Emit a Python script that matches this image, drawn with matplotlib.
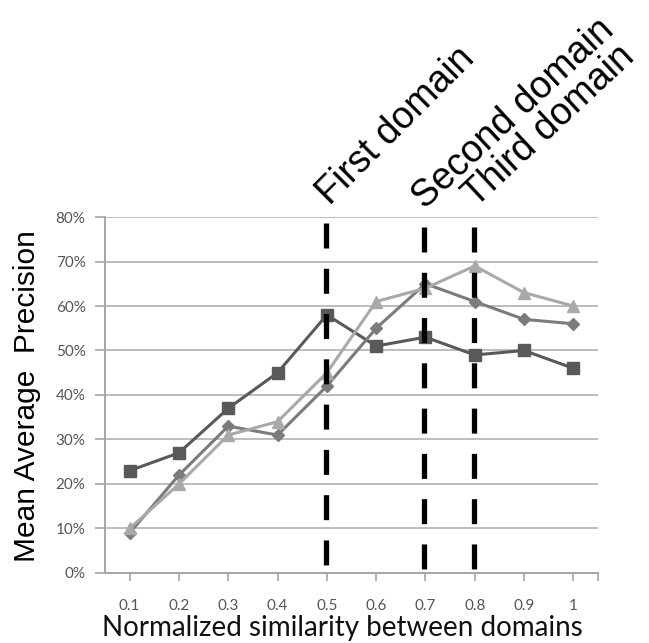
import matplotlib
matplotlib.use('Agg')
import matplotlib.pyplot as plt
import matplotlib.transforms as mtransforms

# data
similarity = [0.1, 0.2, 0.3, 0.4, 0.5, 0.6, 0.7, 0.8, 0.9, 1.0]
tick_labels = ['0.1', '0.2', '0.3', '0.4', '0.5', '0.6', '0.7', '0.8', '0.9', '1']
map_squares = [0.23, 0.27, 0.37, 0.45, 0.58, 0.51, 0.53, 0.49, 0.50, 0.46]
map_diamonds = [0.09, 0.22, 0.33, 0.31, 0.42, 0.55, 0.65, 0.61, 0.57, 0.56]
map_triangles = [0.10, 0.20, 0.31, 0.34, 0.45, 0.61, 0.64, 0.69, 0.63, 0.60]
domain_x = [0.5, 0.7, 0.8]
domain_names = ['First domain', 'Second domain', 'Third domain']
y_ticks = [0, 0.1, 0.2, 0.3, 0.4, 0.5, 0.6, 0.7, 0.8]

plt.rcParams['lines.scale_dashes'] = False

fig = plt.figure(figsize=(6.49, 6.43), dpi=100)
ax = fig.add_axes([0.1618, 0.1089, 0.7596, 0.5536])

ax.plot(similarity, map_squares, color='#595959', lw=2.2, marker='s', ms=9, zorder=3)
ax.plot(similarity, map_diamonds, color='#7b7b7b', lw=2.2, marker='D', ms=6.5, zorder=3)
ax.plot(similarity, map_triangles, color='#a9a9a9', lw=2.2, marker='^', ms=9, zorder=3)

# dashed domain markers (start a little below the top, like the original)
starts = [0.787, 0.778, 0.778]
for x, top in zip(domain_x, starts):
    ax.plot([x - 0.002, x - 0.002], [top, 0.0], color='black', lw=3.8,
            dashes=(18, 14.6), zorder=5)

ax.set_xlim(0.05, 1.05)
ax.set_ylim(0, 0.8)

ax.set_xticks(similarity + [1.05])
ax.set_xticklabels(tick_labels + [''])
ax.set_yticks(y_ticks)
ax.set_yticklabels(['%d%%' % round(v * 100) for v in y_ticks])

ax.grid(axis='y', color='#bdbdbd', lw=1.4)
ax.set_axisbelow(True)
for s in ['top', 'right']:
    ax.spines[s].set_visible(False)
for s in ['left', 'bottom']:
    ax.spines[s].set_color('#a6a6a6')
    ax.spines[s].set_linewidth(1.4)

ax.tick_params(axis='x', direction='out', length=6, width=1.2, color='#a6a6a6',
               labelcolor='#555555', labelsize=11, pad=13)
ax.tick_params(axis='y', direction='out', length=7, width=1.2, color='#a6a6a6',
               labelcolor='#555555', labelsize=11, pad=7)
for lab in ax.get_xticklabels() + ax.get_yticklabels():
    lab.set_family('Lato')

# rotated domain names
trans = mtransforms.blended_transform_factory(ax.transData, ax.transAxes)
offsets = [0.006, 0.0, 0.002]
heights = [1.03, 1.02, 1.025]
angles = [45, 43, 43]
for x, name, dx, y, ang in zip(domain_x, domain_names, offsets, heights, angles):
    ax.text(x + dx, y, name, transform=trans, rotation=ang, rotation_mode='anchor',
            ha='left', va='baseline', fontsize=27, family='Liberation Sans')

fig.text(27 / 649, 0.384, 'Mean Average  Precision', rotation=90, ha='center', va='center',
         fontsize=21.5, family='Liberation Sans')
fig.text(102 / 649, 1 - 636 / 643, 'Normalized similarity between domains', ha='left',
         va='baseline', fontsize=20, family='Lato', color='#111111')

plt.savefig('out.png', dpi=100)
plt.close('all')
